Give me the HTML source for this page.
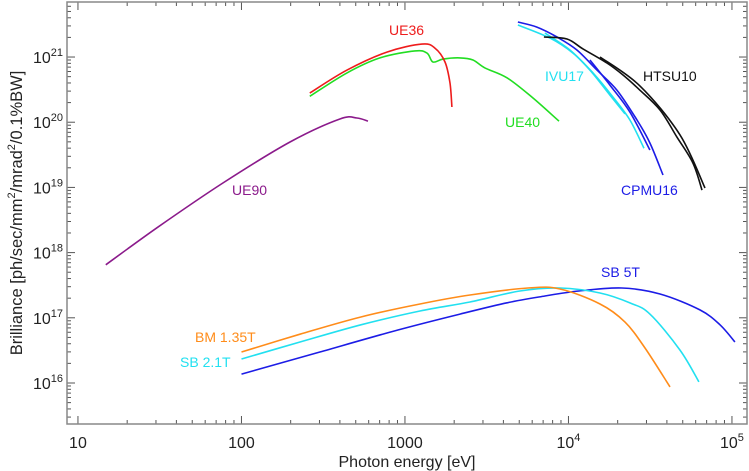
<!DOCTYPE html>
<html><head><meta charset="utf-8"><style>
html,body{margin:0;padding:0;background:#fff;}
svg{display:block;font-family:"Liberation Sans",Arial,sans-serif;}
</style></head><body>
<svg id="chart" width="749" height="471" viewBox="0 0 749 471" xmlns="http://www.w3.org/2000/svg"></svg>
<script>
// ---- data ----
const ue36E=[262,442,776,1270,1525,1757,1885,1938];
const ue36B=[2.8e20,6.3e20,1.19e21,1.58e21,1.37e21,8.4e20,4.0e20,1.71e20];
const ue40E=[262,442,703,1151,1364,1483,1708,2170,2606,3085,4207,6067,8750];
const ue40B=[2.5e20,5.7e20,9.7e20,1.24e21,1.15e21,8.4e20,9.3e20,9.7e20,9.0e20,6.8e20,4.8e20,2.35e20,1.04e20];
const ue90E=[14.8,30.4,77,198,400,508,594];
const ue90B=[6.5e17,2.4e18,1.17e19,4.97e19,1.12e20,1.16e20,1.04e20];
const cpmuE=[4910,6412,8505,11270,14940,19800,26240,31500,37840];
const cpmuB=[3.44e21,2.88e21,2.03e21,1.28e21,6.3e20,3.1e20,1.08e20,4.8e19,1.55e19];
const cpmu2E=[13530,17950,23770,31500];
const cpmu2B=[9.0e20,3.7e20,1.43e20,3.75e19];
const ivuE=[4910,7709,10660,14130,18710,23770,28970];
const ivuB=[3.1e21,1.95e21,1.15e21,5.7e20,2.44e20,1.08e20,4.0e19];
const ivu2E=[7180,10210,13530,17950,22180];
const ivu2B=[2.33e21,1.28e21,6.3e20,2.6e20,1.34e20];
const htsuE=[7080,9790,12270,17190,21550,27360,36290,46100,57690,65560];
const htsuB=[2.03e21,1.89e21,1.33e21,8.1e20,5.3e20,3.1e20,1.54e20,5.9e19,2.37e19,9.1e18];
const htsu2E=[15600,27360,48100,68390];
const htsu2B=[1.0e21,3.6e20,6.4e19,9.8e18];
const bmE=[100,228,538,1236,2500,5650,8870,15600,22180,29380,41780];
const bmB=[2.99e16,5.6e16,1.03e17,1.63e17,2.24e17,2.86e17,2.77e17,1.63e17,8.6e16,3.44e16,8.7e15];
const sb21E=[100,228,538,1236,2500,5050,8870,15600,23770,31500,48100,62800];
const sb21B=[2.33e16,4.26e16,7.8e16,1.27e17,1.75e17,2.58e17,2.86e17,2.4e17,1.69e17,1.14e17,3.2e16,1.04e16];
const sb5E=[100,302,906,2170,4207,7180,11590,21230,36290,63710,84500,104300];
const sb5B=[1.37e16,2.99e16,6.5e16,1.14e17,1.7e17,2.16e17,2.58e17,2.86e17,2.32e17,1.32e17,7.8e16,4.26e16];
const xTickExp=[1,2,3,4,5];
const xTickLabels=["10","100","1000","10^4","10^5"];
const yTickExp=[16,17,18,19,20,21];

// ---- axes ----
const L=67,R=747,T=2,B=424;
const xmin=0.933,xmax=5.092,ymin=15.371,ymax=21.844;
function X(e){return L+(Math.log10(e)-xmin)/(xmax-xmin)*(R-L);}
function Y(b){return B-(Math.log10(b)-ymin)/(ymax-ymin)*(B-T);}
const NS="http://www.w3.org/2000/svg";
const svg=document.getElementById('chart');
function mk(tag,attrs,parent){const el=document.createElementNS(NS,tag);for(const k in attrs)el.setAttribute(k,attrs[k]);(parent||svg).appendChild(el);return el;}

const ticks=mk('g',{stroke:'#555','stroke-width':1});


for(let d=1;d<=5;d++){for(let m=1;m<10;m++){const v=m*Math.pow(10,d);const x=X(v);if(x<L||x>R)continue;const len=m===1?8:4;
 mk('line',{x1:x,y1:B,x2:x,y2:B-len},ticks);mk('line',{x1:x,y1:T,x2:x,y2:T+len},ticks);}}
for(let d=15;d<=21;d++){for(let m=1;m<10;m++){const v=m*Math.pow(10,d);const y=Y(v);if(y<T||y>B)continue;const len=m===1?8:4;
 mk('line',{x1:L,y1:y,x2:L+len,y2:y},ticks);mk('line',{x1:R,y1:y,x2:R-len,y2:y},ticks);}}
const frame=mk('rect',{x:L,y:T,width:R-L,height:B-T,fill:'none',stroke:'#888','stroke-width':1.5});



xTickExp.forEach((e,i)=>{const lab=xTickLabels[i];const x=X(Math.pow(10,e));
 const t=mk('text',{x:x,y:448,'font-size':16,fill:'#222','text-anchor':'middle'});
 
 
 if(lab.indexOf('^')>0){const p=lab.split('^');const a=mk('tspan',{},t);a.textContent=p[0];const s=mk('tspan',{dy:-7,'font-size':11},t);s.textContent=p[1];}
 else t.textContent=lab;});
yTickExp.forEach(e=>{const y=Y(Math.pow(10,e));
 const t=mk('text',{x:33,y:y+6,'font-size':16,fill:'#222'});
 
 
 const a=mk('tspan',{},t);a.textContent='10';const s=mk('tspan',{dy:-7,'font-size':11},t);s.textContent=String(e);});

const xt=mk('text',{x:407,y:467,'font-size':16,fill:'#222','text-anchor':'middle'});


xt.textContent='Photon energy [eV]';
const yt=mk('text',{x:0,y:0,'font-size':16.5,fill:'#222','text-anchor':'middle',transform:'translate(22,213) rotate(-90)'});


[['Brilliance [ph/sec/mm',0],['2',1],['/mrad',0],['2',1],['/0.1%BW]',0]].forEach(([s,sup],i)=>{
 const ts=mk('tspan',sup?{dy:-7,'font-size':11}:(i>0?{dy:7}:{}),yt);ts.textContent=s;});

function smoothPath(pts){
 let d='M'+pts[0][0].toFixed(1)+','+pts[0][1].toFixed(1);
 for(let i=0;i<pts.length-1;i++){
  const p0=pts[i-1]||pts[i],p1=pts[i],p2=pts[i+1],p3=pts[i+2]||p2;
  const c1=[p1[0]+(p2[0]-p0[0])/6,p1[1]+(p2[1]-p0[1])/6];
  const c2=[p2[0]-(p3[0]-p1[0])/6,p2[1]-(p3[1]-p1[1])/6];
  d+=' C'+c1.map(v=>v.toFixed(1)).join(',')+' '+c2.map(v=>v.toFixed(1)).join(',')+' '+p2[0].toFixed(1)+','+p2[1].toFixed(1);
 }
 return d;}
function series(E,Bv,color,name){
 const pts=E.map((e,i)=>[X(e),Y(Bv[i])]);
 const p=mk('path',{d:smoothPath(pts),fill:'none',stroke:color,'stroke-width':1.6,'stroke-linejoin':'round'});
 
 }
series(ue90E,ue90B,'#8b1a8b','ue90-line');
series(ue40E,ue40B,'#22dd22','ue40-line');
series(ue36E,ue36B,'#ee1c1c','ue36-line');
series(ivuE,ivuB,'#22e0f0','ivu17-line');
series(ivu2E,ivu2B,'#22e0f0','ivu17-line-2');
series(cpmuE,cpmuB,'#1c1ce6','cpmu16-line');
series(cpmu2E,cpmu2B,'#1c1ce6','cpmu16-line-2');
series(htsuE,htsuB,'#111','htsu10-line');
series(htsu2E,htsu2B,'#111','htsu10-line-2');
series(sb5E,sb5B,'#1c1ce6','sb5t-line');
series(sb21E,sb21B,'#22e0f0','sb21t-line');
series(bmE,bmB,'#ff8c1a','bm135t-line');

function label(x,y,txt,color,name){const t=mk('text',{x:x,y:y,'font-size':14,fill:color});
 
 
 t.textContent=txt;}
label(389,35,'UE36','#ee1c1c','ue36-label');
label(505,127,'UE40','#22dd22','ue40-label');
label(232,195,'UE90','#8b1a8b','ue90-label');
label(545,81,'IVU17','#22e0f0','ivu17-label');
label(643,81,'HTSU10','#111','htsu10-label');
label(621,195,'CPMU16','#1c1ce6','cpmu16-label');
label(601,277,'SB 5T','#1c1ce6','sb5t-label');
label(195,342,'BM 1.35T','#ff8c1a','bm135t-label');
label(180,367,'SB 2.1T','#22e0f0','sb21t-label');
</script>
</body></html>
